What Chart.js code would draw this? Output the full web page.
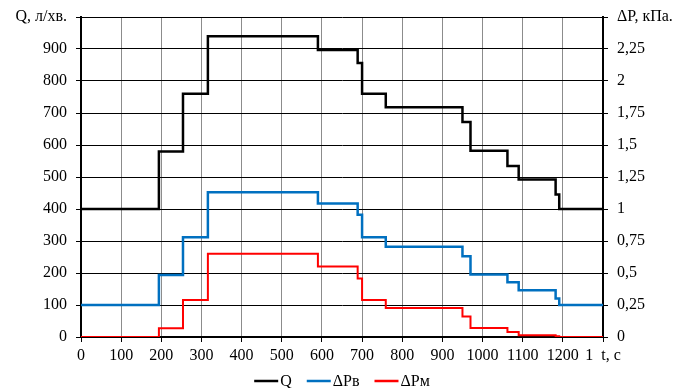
<!DOCTYPE html>
<html>
<head>
<meta charset="utf-8">
<script src="https://cdn.jsdelivr.net/npm/chart.js@4/dist/chart.umd.min.js"></script>
<style>
  html, body { margin: 0; padding: 0; background: #fff; }
  #wrap { width: 675px; height: 388px; position: relative; }
</style>
</head>
<body>
<div id="wrap"><canvas id="c" width="675" height="388"></canvas></div>
<script>
// ---- data ----
const timeSec = [0, 194, 254, 316, 590, 689, 700, 759, 950, 970, 1062, 1090, 1182, 1191, 1300];
const flowQ   = [400, 580, 760, 940, 897, 856, 760, 718, 672, 582, 534, 492, 445, 400, 400];
const dPv     = [0.25, 0.485, 0.78, 1.13, 1.043, 0.955, 0.78, 0.705, 0.63, 0.488, 0.428, 0.365, 0.30, 0.25, 0.25];
const dPm     = [0, 0.068, 0.29, 0.65, 0.55, 0.457, 0.29, 0.226, 0.16, 0.07, 0.039, 0.013, 0.005, 0, 0];
const seriesLabels = ['Q', 'ΔPв', 'ΔPм'];
const leftTickLabels  = ['0','100','200','300','400','500','600','700','800','900','Q, л/хв.'];
const rightTickLabels = ['0','0,25','0,5','0,75','1','1,25','1,5','1,75','2','2,25','ΔP, кПа.'];
const xTickLabels = ['0','100','200','300','400','500','600','700','800','900','1000','1100','1200','1  t, c'];

const pts = (ys) => timeSec.map((t, i) => ({ x: t, y: ys[i] }));
const FONT = { family: '"Liberation Serif", "Times New Roman", serif', size: 16 };

const legendPlugin = {
  id: 'customLegend',
  afterDraw(chart) {
    const ctx = chart.ctx;
    const ds = chart.data.datasets;
    ctx.save();
    ctx.font = FONT.size + 'px ' + FONT.family;
    const lineW = 24, gap = 2, spacing = 15;
    const widths = ds.map(d => lineW + gap + ctx.measureText(d.label).width);
    const total = widths.reduce((a, b) => a + b, 0) + spacing * (ds.length - 1);
    const ca = chart.chartArea;
    let x = (ca.left + ca.right) / 2 - total / 2;
    const y = 381;
    ds.forEach((d, i) => {
      ctx.strokeStyle = d.borderColor;
      ctx.lineWidth = 2.5;
      ctx.beginPath();
      ctx.moveTo(x, y);
      ctx.lineTo(x + lineW, y);
      ctx.stroke();
      ctx.fillStyle = '#000';
      ctx.textAlign = 'left';
      ctx.textBaseline = 'middle';
      ctx.fillText(d.label, x + lineW + gap, y + 1);
      x += widths[i] + spacing;
    });
    ctx.restore();
  }
};

new Chart(document.getElementById('c'), {
  type: 'line',
  data: {
    datasets: [
      { label: seriesLabels[0], data: pts(flowQ), yAxisID: 'y', borderColor: '#000000', borderWidth: 2.5, stepped: 'before', pointRadius: 0, fill: false },
      { label: seriesLabels[1], data: pts(dPv), yAxisID: 'y1', borderColor: '#0070C0', borderWidth: 2.5, stepped: 'before', pointRadius: 0, fill: false },
      { label: seriesLabels[2], data: pts(dPm), yAxisID: 'y1', borderColor: '#FF0000', borderWidth: 2, stepped: 'before', pointRadius: 0, fill: false }
    ]
  },
  options: {
    responsive: false,
    animation: false,
    devicePixelRatio: 1,
    layout: { padding: { top: 17, left: 0, right: 0, bottom: 0 } },
    plugins: { legend: { display: false }, tooltip: { enabled: false } },
    scales: {
      x: {
        type: 'linear', min: 0, max: 1300,
        ticks: { stepSize: 100, color: '#000', font: FONT, padding: 4, maxRotation: 0, autoSkip: false,
                 callback: (v, i) => xTickLabels[i] },
        grid: { color: '#8c8c8c', lineWidth: 1, tickColor: '#000', tickLength: 5 },
        border: { color: '#000', width: 2 },
        afterFit: (s) => { s.height = 51; s.paddingLeft = 0; s.paddingRight = 0; }
      },
      y: {
        position: 'left', min: 0, max: 1000,
        ticks: { stepSize: 100, color: '#000', font: FONT, padding: 9,
                 callback: (v, i) => leftTickLabels[i] },
        grid: { color: '#000', lineWidth: 1, tickColor: '#000', tickLength: 5 },
        border: { color: '#000', width: 2 },
        afterFit: (s) => { s.width = 81; s.paddingTop = 0; s.paddingBottom = 0; }
      },
      y1: {
        position: 'right', min: 0, max: 2.5,
        ticks: { stepSize: 0.25, color: '#000', font: FONT, padding: 9,
                 callback: (v, i) => rightTickLabels[i] },
        grid: { drawOnChartArea: false, color: '#000', tickColor: '#000', tickLength: 5 },
        border: { color: '#000', width: 2 },
        afterFit: (s) => { s.width = 72; s.paddingTop = 0; s.paddingBottom = 0; }
      }
    }
  },
  plugins: [legendPlugin]
});
</script>
</body>
</html>
